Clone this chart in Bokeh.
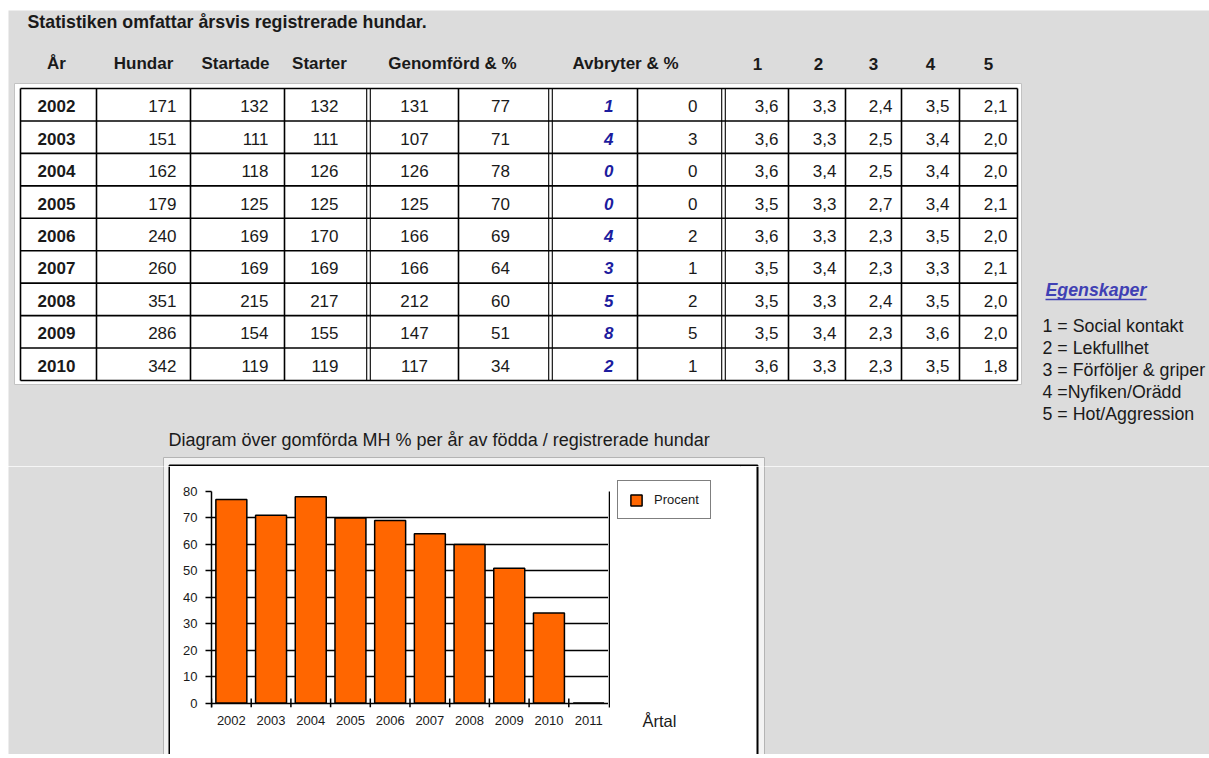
from bokeh.plotting import figure
from bokeh.layouts import column, row
from bokeh.models import (Range1d, FactorRange, FixedTicker, Legend, LegendItem)
from bokeh.core.properties import value
from bokeh.embed import file_html
from bokeh.resources import INLINE

# ---------------- data ----------------
title_text = "Statistiken omfattar årsvis registrerade hundar."
header_labels = ["År", "Hundar", "Startade", "Starter", "Genomförd & %", "Avbryter & %", "1", "2", "3", "4", "5"]
years = ["2002", "2003", "2004", "2005", "2006", "2007", "2008", "2009", "2010"]
hundar = [171, 151, 162, 179, 240, 260, 351, 286, 342]
startade = [132, 111, 118, 125, 169, 169, 215, 154, 119]
starter = [132, 111, 126, 125, 170, 169, 217, 155, 119]
genomford = [131, 107, 126, 125, 166, 166, 212, 147, 117]
genomford_pct = [77, 71, 78, 70, 69, 64, 60, 51, 34]
avbryter = [1, 4, 0, 0, 4, 3, 5, 8, 2]
avbryter_pct = [0, 3, 0, 0, 2, 1, 2, 5, 1]
score1 = [3.6, 3.6, 3.6, 3.5, 3.6, 3.5, 3.5, 3.5, 3.6]
score2 = [3.3, 3.3, 3.4, 3.3, 3.3, 3.4, 3.3, 3.4, 3.3]
score3 = [2.4, 2.5, 2.5, 2.7, 2.3, 2.3, 2.4, 2.3, 2.3]
score4 = [3.5, 3.4, 3.4, 3.4, 3.5, 3.3, 3.5, 3.6, 3.5]
score5 = [2.1, 2.0, 2.0, 2.1, 2.0, 2.1, 2.0, 2.0, 1.8]
legend_title = "Egenskaper"
legend_lines = ["1 = Social kontakt", "2 = Lekfullhet", "3 = Förföljer & griper",
                "4 =Nyfiken/Orädd", "5  = Hot/Aggression"]
chart_caption = "Diagram över gomförda MH %  per år av födda / registrerade hundar"
chart_years = years + ["2011"]
chart_pct = genomford_pct + [0]
y_ticks = [0, 10, 20, 30, 40, 50, 60, 70, 80]
series_name = "Procent"
x_title = "Årtal"

# ---------------- styles ----------------
BG = "#dcdcdc"
LIGHT = "#f3f3f3"
EDGE = "#b4b4b4"
FONT = value("Liberation Sans")
INK = "#1a1a1a"
BLUE = "#1c1c9e"
LINKBLUE = "#4040b4"
ORANGE = "#ff6600"
W, H = 1209, 758

def dec(v):
    return f"{v:.1f}".replace(".", ",")

def no_frame_align(f):
    # keep each figure's own frame (do not align frames of neighbouring plots)
    try:
        f.frame_align = False
    except Exception:
        pass
    return f

def canvas(w, h, x0, y0):
    """A blank figure whose data units are page pixels (y grows downwards)."""
    f = figure(width=w, height=h, x_range=Range1d(x0, x0 + w), y_range=Range1d(y0 + h, y0),
               toolbar_location=None, output_backend="svg", min_border=0,
               x_axis_location=None, y_axis_location=None, background_fill_color="white",
               border_fill_color="white", outline_line_color=None)
    f.grid.visible = False
    return no_frame_align(f)

# ---------------- top part ----------------
TOP_H = 466
top = canvas(W, TOP_H, 0, 0)
top.quad(left=[8], right=[W], top=[10], bottom=[TOP_H], fill_color=BG, line_color=None)

top.text(x=[27], y=[21], text=[title_text], text_font=FONT, text_font_size="17.8px",
         text_font_style="bold", text_baseline="middle", text_align="left", text_color=INK)

header_x = [56, 143, 235, 319, 452, 625, 757, 818, 873, 930, 988]
top.text(x=header_x, y=[63] * len(header_x), text=header_labels, text_font=FONT,
         text_font_size="17px", text_font_style="bold", text_baseline="middle",
         text_align="center", text_color=INK)

# table frame and grid
top.quad(left=[14], right=[1021], top=[83], bottom=[384], fill_color="white",
         line_color="#c2c2c2", line_width=1)
col_x = [20, 96, 190, 284, 368, 458, 550, 637, 723, 788, 845, 901, 959, 1017]
double_cols = [368, 550, 723]
row_top, row_bot = 88, 380
n = len(years)
rh = (row_bot - row_top) / n
row_lines = [row_top + i * rh for i in range(n + 1)]
top.segment(x0=[20] * len(row_lines), x1=[1017] * len(row_lines), y0=row_lines, y1=row_lines,
            line_color="black", line_width=1.6)
single = [c for c in col_x if c not in double_cols]
top.segment(x0=single, x1=single, y0=[row_top] * len(single), y1=[row_bot] * len(single),
            line_color="black", line_width=1.6)
dbl = [c - 1.8 for c in double_cols] + [c + 1.8 for c in double_cols]
top.segment(x0=dbl, x1=dbl, y0=[row_top] * len(dbl), y1=[row_bot] * len(dbl),
            line_color="black", line_width=1.1)

row_y = [row_top + (i + 0.5) * rh + 1.5 for i in range(n)]
columns = [
    ([str(v) for v in years], 56, "center", "bold", INK),
    ([str(v) for v in hundar], 176, "right", "normal", INK),
    ([str(v) for v in startade], 268, "right", "normal", INK),
    ([str(v) for v in starter], 338, "right", "normal", INK),
    ([str(v) for v in genomford], 414, "center", "normal", INK),
    ([str(v) for v in genomford_pct], 500, "center", "normal", INK),
    ([str(v) for v in avbryter], 613, "right", "bold italic", BLUE),
    ([str(v) for v in avbryter_pct], 697, "right", "normal", INK),
    ([dec(v) for v in score1], 778, "right", "normal", INK),
    ([dec(v) for v in score2], 836, "right", "normal", INK),
    ([dec(v) for v in score3], 892, "right", "normal", INK),
    ([dec(v) for v in score4], 949, "right", "normal", INK),
    ([dec(v) for v in score5], 1007, "right", "normal", INK),
]
for texts, cx, align, style, color in columns:
    top.text(x=[cx] * n, y=row_y, text=texts, text_font=FONT, text_font_size="17px",
             text_font_style=style, text_align=align, text_baseline="middle", text_color=color)

# key of the properties
top.text(x=[1045], y=[289], text=[legend_title], text_font=FONT, text_font_size="17.8px",
         text_font_style="bold italic", text_baseline="middle", text_align="left", text_color=LINKBLUE)
top.segment(x0=[1045], x1=[1146], y0=[299], y1=[299], line_color=LINKBLUE, line_width=1.3)
leg_y = [325, 347, 369, 391, 413]
top.text(x=[1042] * len(legend_lines), y=leg_y, text=legend_lines, text_font=FONT,
         text_font_size="17.8px", text_baseline="middle", text_align="left", text_color=INK)

top.text(x=[168], y=[439], text=[chart_caption], text_font=FONT, text_font_size="18px",
         text_baseline="middle", text_align="left", text_color=INK)

# top edge of the chart box
top.quad(left=[163], right=[764], top=[457], bottom=[480], fill_color=LIGHT, line_color=EDGE, line_width=1)
top.quad(left=[169], right=[757], top=[465], bottom=[480], fill_color="white", line_color="black", line_width=2)

# ---------------- bar chart ----------------
MID_H = 754 - TOP_H
CH_X0, CH_X1 = 170, 608
Y_LOW = -1.7          # small extension below 0 so the boundary ticks can cross the axis
ch = figure(width=CH_X1 - CH_X0, height=MID_H, x_range=FactorRange(factors=chart_years),
            y_range=Range1d(Y_LOW, 80), toolbar_location=None, output_backend="svg",
            x_axis_location="below", y_axis_location="left",
            min_border_left=41, min_border_right=0, min_border_top=25, min_border_bottom=47,
            background_fill_color="white", border_fill_color="white", outline_line_color=None)
no_frame_align(ch)
ch.xgrid.visible = False
ch.ygrid.grid_line_color = "black"
ch.ygrid.grid_line_width = 1.5

ya = ch.yaxis[0]
ya.ticker = FixedTicker(ticks=y_ticks)
ya.major_tick_in = 0
ya.major_tick_out = 6
ya.minor_tick_line_color = None
ya.axis_line_width = 1.5
ya.major_tick_line_width = 1.5
ya.major_label_text_font = "Liberation Sans"
ya.major_label_text_font_size = "13px"
ya.major_label_text_color = INK
ya.major_label_standoff = 8

xa = ch.xaxis[0]
xa.axis_line_color = None
xa.major_tick_line_color = None
xa.minor_tick_line_color = None
xa.major_label_text_font = "Liberation Sans"
xa.major_label_text_font_size = "13px"
xa.major_label_text_color = INK
xa.major_label_standoff = 2

bars = ch.vbar(x=chart_years, top=chart_pct, width=0.78, fill_color=ORANGE,
               line_color="black", line_width=1.5)

# tick marks at the category boundaries
edges = [(y, -0.5) for y in chart_years]
ch.segment(x0=edges, x1=edges, y0=[Y_LOW] * len(edges), y1=[-Y_LOW] * len(edges),
           line_color="black", line_width=1.5)

# ---------------- right part of the chart box (legend + axis title) ----------------
right = canvas(W - CH_X1, MID_H, CH_X1, TOP_H)
right.quad(left=[764], right=[W], top=[TOP_H], bottom=[754], fill_color=BG, line_color=None)
right.quad(left=[740], right=[764], top=[TOP_H - 5], bottom=[760], fill_color=LIGHT, line_color=EDGE, line_width=1)
right.quad(left=[CH_X1], right=[757], top=[TOP_H], bottom=[754], fill_color="white", line_color=None)
right.segment(x0=[757], x1=[757], y0=[TOP_H], y1=[754], line_color="black", line_width=2)
# right edge of the plot frame, crossing the axis like the other ticks
right.segment(x0=[CH_X1 + 0.75], x1=[CH_X1 + 0.75], y0=[491], y1=[707], line_color="black", line_width=1.5)

# legend swatch proxy (same style as the bars; its single entry lies outside the visible area)
proxy = right.quad(left=[0], right=[1], top=[0], bottom=[1], fill_color=ORANGE,
                   line_color="black", line_width=1.5)
legend = Legend(items=[LegendItem(label=series_name, renderers=[proxy])], location=(9, 235),
                border_line_color="black", border_line_width=1.8, background_fill_color="white",
                background_fill_alpha=1, label_text_font="Liberation Sans", label_text_font_size="13px",
                glyph_width=14, glyph_height=14, padding=11, label_standoff=11, margin=0,
                label_text_color=INK)
right.add_layout(legend)
right.text(x=[642], y=[720], text=[x_title], text_font=FONT, text_font_size="16.5px",
           text_baseline="middle", text_align="left", text_color=INK)

# left part of the box / page
left = canvas(CH_X0, MID_H, 0, TOP_H)
left.quad(left=[8], right=[163], top=[TOP_H], bottom=[754], fill_color=BG, line_color=None)
left.quad(left=[163], right=[180], top=[TOP_H - 5], bottom=[760], fill_color=LIGHT, line_color=EDGE, line_width=1)
left.segment(x0=[169], x1=[169], y0=[TOP_H], y1=[754], line_color="black", line_width=2)

BOT_H = H - 754
bottom = canvas(W, BOT_H, 0, 754)
bottom.quad(left=[8], right=[W], top=[754], bottom=[H], fill_color=BG, line_color=None)
bottom.quad(left=[163], right=[764], top=[740], bottom=[H + 10], fill_color=LIGHT, line_color=EDGE, line_width=1)
bottom.quad(left=[169], right=[757], top=[740], bottom=[755], fill_color="white", line_color="black", line_width=2)

layout = column(top, row(left, ch, right), bottom)

open("out.html", "w").write(file_html(layout, INLINE))
